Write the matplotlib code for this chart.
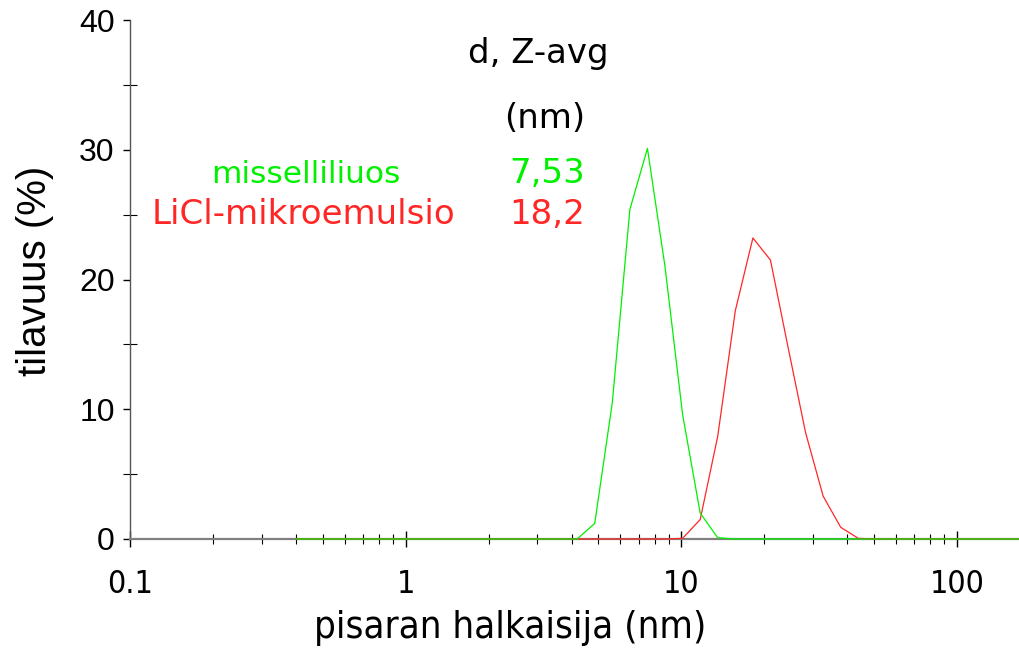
import matplotlib
matplotlib.use("Agg")
import matplotlib.pyplot as plt
from matplotlib.ticker import FixedLocator, NullFormatter, FixedFormatter

# Size classes (nm) of the DLS volume distribution
size_nm = [0.4, 0.4632, 0.5365, 0.6213, 0.7195, 0.8332, 0.9649, 1.117, 1.294,
           1.499, 1.736, 2.010, 2.328, 2.696, 3.122, 3.615, 4.187, 4.849,
           5.615, 6.503, 7.531, 8.721, 10.10, 11.70, 13.54, 15.69, 18.17,
           21.04, 24.36, 28.21, 32.67, 37.84, 43.82, 50.75, 58.77, 68.06,
           78.82, 91.28, 105.7, 122.4, 141.8, 164.2, 190.1]

# Volume (%) per size class
misseli = [0, 0, 0, 0, 0, 0, 0, 0, 0,
           0, 0, 0, 0, 0, 0, 0, 0, 1.2,
           10.5, 25.4, 30.1, 21.0, 9.6, 2.0, 0.1, 0, 0,
           0, 0, 0, 0, 0, 0, 0, 0, 0,
           0, 0, 0, 0, 0, 0, 0]
licl = [0, 0, 0, 0, 0, 0, 0, 0, 0,
        0, 0, 0, 0, 0, 0, 0, 0, 0,
        0, 0, 0, 0, 0.05, 1.5, 7.9, 17.6, 23.2,
        21.5, 14.8, 8.2, 3.3, 0.9, 0.05, 0, 0, 0,
        0, 0, 0, 0, 0, 0, 0]

series_names = ["misselliliuos", "LiCl-mikroemulsio"]
z_avg = ["7,53", "18,2"]

x_major = [0.1, 1, 10, 100]
x_major_labels = ["0.1", "1", "10", "100"]
x_minor = [m * d for d in (0.1, 1, 10, 100) for m in range(2, 10)]
y_major = [0, 10, 20, 30, 40]
y_minor = [5, 15, 25, 35]

GREEN = "#00f000"
RED = "#ff2626"

fig = plt.figure(figsize=(10.19, 6.48), dpi=100)
ax = fig.add_axes([130 / 1019, 1 - 539 / 648, 1 - 130 / 1019, (539 - 20) / 648])

ax.plot(size_nm, licl, color=RED, lw=0.9, clip_on=False, zorder=3)
ax.plot(size_nm, misseli, color=GREEN, lw=0.9, clip_on=False, zorder=4)

ax.set_xscale("log")
ax.set_xlim(0.1, 167.7)
ax.set_ylim(0, 40)

for s in ("top", "right"):
    ax.spines[s].set_visible(False)
ax.spines["bottom"].set_color("#808080")
ax.spines["bottom"].set_linewidth(1.6)
ax.spines["left"].set_color("#555555")
ax.spines["left"].set_linewidth(1.0)

ax.xaxis.set_major_locator(FixedLocator(x_major))
ax.xaxis.set_major_formatter(FixedFormatter(x_major_labels))
ax.xaxis.set_minor_locator(FixedLocator(x_minor))
ax.xaxis.set_minor_formatter(NullFormatter())
ax.yaxis.set_major_locator(FixedLocator(y_major))
ax.yaxis.set_minor_locator(FixedLocator(y_minor))

ax.tick_params(axis="x", which="major", direction="inout", length=11, width=1.0,
               color="black", pad=16, labelsize=23)
ax.tick_params(axis="x", which="minor", direction="inout", length=7, width=0.8,
               color="black")
ax.tick_params(axis="y", which="major", direction="out", length=5, width=1.0,
               color="black", pad=6, labelsize=23)
ax.tick_params(axis="y", which="minor", direction="inout", length=10, width=0.8,
               color="black")

for lab in ax.get_xticklabels():
    lab.set_fontfamily("DejaVu Sans")
    lab.set_fontstretch("condensed")
for lab in ax.get_yticklabels():
    lab.set_fontfamily("Liberation Sans")

ax.set_xlabel("pisaran halkaisija (nm)", fontsize=27.5, family="DejaVu Sans",
              stretch="condensed")
ax.xaxis.set_label_coords((510 - 130) / 889, -(628 - 539) / 519)
ax.xaxis.label.set_va("center")
ax.set_ylabel("tilavuus (%)", fontsize=29, family="Liberation Sans")
ax.yaxis.set_label_coords(-(130 - 35) / 889, (539 - 271) / 519)
ax.yaxis.label.set_va("center")

# Z-average annotation table
def px(x, y):
    return fig.transFigure.inverted().transform((x, 648 - y))

fig.text(*px(538, 63), "d, Z-avg", fontsize=24.5, ha="center", va="baseline",
         family="DejaVu Sans")
fig.text(*px(545, 128), "(nm)", fontsize=24.5, ha="center", va="baseline",
         family="DejaVu Sans")
fig.text(*px(400, 183), series_names[0], fontsize=22.5, ha="right", va="baseline",
         color=GREEN, family="DejaVu Sans")
fig.text(*px(455, 224), series_names[1], fontsize=24.5, ha="right", va="baseline",
         color=RED, family="DejaVu Sans")
fig.text(*px(585, 183), z_avg[0], fontsize=24.5, ha="right", va="baseline",
         color=GREEN, family="DejaVu Sans")
fig.text(*px(585, 224), z_avg[1], fontsize=24.5, ha="right", va="baseline",
         color=RED, family="DejaVu Sans")

fig.savefig("out.png", dpi=100)
